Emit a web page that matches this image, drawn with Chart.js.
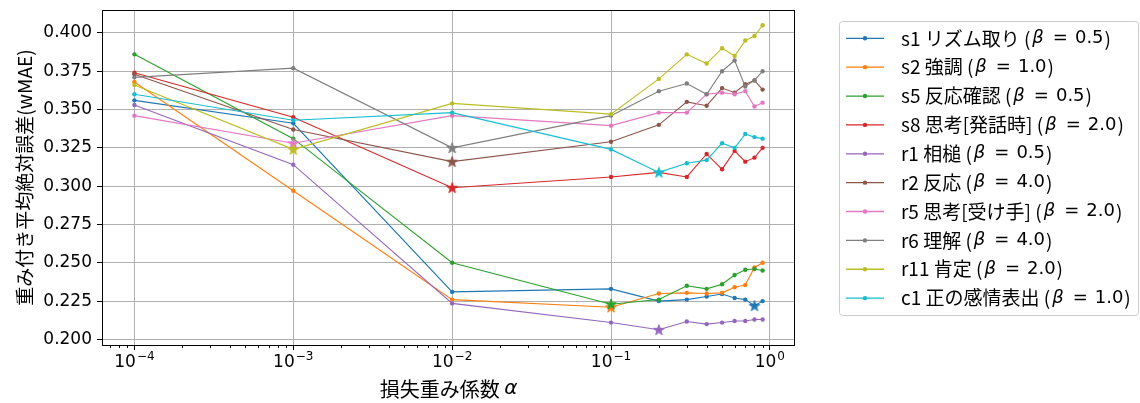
<!DOCTYPE html>
<html><head><meta charset="utf-8">
<script src="https://cdn.jsdelivr.net/npm/chart.js@4.4.1/dist/chart.umd.min.js"></script>
<style>html,body{margin:0;padding:0;background:#fff;}#wrap{width:1140px;height:403px;}</style>
</head><body><div id="wrap"><canvas id="c" width="1140" height="403"></canvas></div>
<script>
const alphas = [1e-4, 1e-3, 1e-2, 1e-1, 0.2, 0.3, 0.4, 0.5, 0.6, 0.7, 0.8, 0.9];
const names = ['s1 リズム取り', 's2 強調', 's5 反応確認', 's8 思考[発話時]', 'r1 相槌', 'r2 反応', 'r5 思考[受け手]', 'r6 理解', 'r11 肯定', 'c1 正の感情表出'];
const betas = ['0.5', '1.0', '0.5', '2.0', '0.5', '4.0', '2.0', '4.0', '2.0', '1.0'];
const colors = ['#1f77b4', '#ff7f0e', '#2ca02c', '#d62728', '#9467bd', '#8c564b', '#e377c2', '#7f7f7f', '#bcbd22', '#17becf'];
const s1  = [0.356, 0.341, 0.231, 0.233, 0.225, 0.226, 0.228, 0.2296, 0.227, 0.226, 0.222, 0.225];
const s2  = [0.368, 0.297, 0.226, 0.221, 0.230, 0.2304, 0.230, 0.2304, 0.234, 0.2355, 0.247, 0.250];
const s5  = [0.386, 0.331, 0.250, 0.223, 0.226, 0.235, 0.233, 0.236, 0.242, 0.2455, 0.246, 0.245];
const s8  = [0.374, 0.345, 0.299, 0.306, 0.309, 0.306, 0.321, 0.311, 0.323, 0.316, 0.3186, 0.325];
const r1  = [0.353, 0.314, 0.2235, 0.211, 0.2063, 0.2117, 0.210, 0.211, 0.212, 0.212, 0.213, 0.213];
const r2  = [0.373, 0.337, 0.316, 0.329, 0.340, 0.355, 0.3525, 0.364, 0.361, 0.3665, 0.369, 0.363];
const r5  = [0.346, 0.328, 0.346, 0.3395, 0.348, 0.348, 0.360, 0.361, 0.360, 0.362, 0.352, 0.3545];
const r6  = [0.371, 0.377, 0.325, 0.346, 0.362, 0.367, 0.360, 0.375, 0.382, 0.365, 0.369, 0.375];
const r11 = [0.366, 0.324, 0.354, 0.347, 0.370, 0.386, 0.380, 0.390, 0.385, 0.395, 0.398, 0.405];
const c1  = [0.360, 0.343, 0.348, 0.324, 0.309, 0.315, 0.317, 0.328, 0.325, 0.334, 0.332, 0.331];
const seriesValues = [s1, s2, s5, s8, r1, r2, r5, r6, r11, c1];
const yTicks = [0.200, 0.225, 0.250, 0.275, 0.300, 0.325, 0.350, 0.375, 0.400];
const xTicks = [1e-4, 1e-3, 1e-2, 1e-1, 1];
const xTickExp = ['−4', '−3', '−2', '−1', '0'];

function makeStar(color) {
  const c = document.createElement('canvas');
  c.width = 14; c.height = 14;
  const g = c.getContext('2d');
  g.fillStyle = color; g.strokeStyle = color; g.lineWidth = 1; g.lineJoin = 'miter';
  g.beginPath();
  for (let k = 0; k < 10; k++) {
    const r = (k % 2) ? 2.2 : 5.6;
    const a = -Math.PI / 2 + k * Math.PI / 5;
    const px = 7 + r * Math.cos(a), py = 7.4 + r * Math.sin(a);
    if (k) g.lineTo(px, py); else g.moveTo(px, py);
  }
  g.closePath(); g.fill(); g.stroke();
  return c;
}

const datasets = seriesValues.map((vals, i) => {
  let mi = 0;
  vals.forEach((v, j) => { if (v < vals[mi]) mi = j; });
  const star = makeStar(colors[i]);
  return {
    label: names[i],
    data: alphas.map((a, j) => ({x: a, y: vals[j]})),
    borderColor: colors[i],
    backgroundColor: colors[i],
    borderWidth: 1.1,
    pointRadius: 2.2,
    pointBorderWidth: 0,
    pointStyle: ctx => ctx.dataIndex === mi ? star : 'circle',
    tension: 0,
    order: seriesValues.length - 1 - i
  };
});

const TICKFONT = '17px "DejaVu Sans"';
const CJK = '"Noto Sans CJK JP"';

const decor = {
  id: 'decor',
  afterDraw(chart) {
    const ctx = chart.ctx, a = chart.chartArea;
    const xs = chart.scales.x;
    ctx.save();
    // frame
    ctx.strokeStyle = '#000'; ctx.lineWidth = 1;
    ctx.strokeRect(Math.round(a.left) - 0.5, Math.round(a.top) + 0.5, Math.round(a.right - a.left) + 1, Math.round(a.bottom - a.top));
    // minor x ticks
    ctx.beginPath();
    for (let d = -5; d <= 0; d++) {
      for (let m = 2; m <= 9; m++) {
        const v = m * Math.pow(10, d);
        if (v < xs.min || v > xs.max) continue;
        const px = Math.round(xs.getPixelForValue(v)) + 0.5;
        ctx.moveTo(px, a.bottom); ctx.lineTo(px, a.bottom + 3);
      }
    }
    ctx.stroke();
    // x tick labels with superscripts
    ctx.fillStyle = '#000'; ctx.textBaseline = 'alphabetic'; ctx.textAlign = 'left';
    xTicks.forEach((v, i) => {
      const px = xs.getPixelForValue(v);
      ctx.font = TICKFONT;
      const w1 = ctx.measureText('10').width;
      ctx.font = '12px "DejaVu Sans"';
      const w2 = ctx.measureText(xTickExp[i]).width;
      const x0 = px - (w1 + w2 + 1) / 2;
      ctx.font = TICKFONT;
      ctx.fillText('10', x0, 367);
      ctx.font = '12px "DejaVu Sans"';
      ctx.fillText(xTickExp[i], x0 + w1 + 1, 360);
    });
    // x title
    ctx.textBaseline = 'middle';
    ctx.font = '20px ' + CJK;
    const xt = '損失重み係数 ';
    const wx1 = ctx.measureText(xt).width;
    ctx.font = 'italic 20px "DejaVu Sans"';
    const wx2 = ctx.measureText('α').width;
    const cx = (a.left + a.right) / 2;
    ctx.font = '20px ' + CJK;
    ctx.fillText(xt, cx - (wx1 + wx2) / 2, 389);
    ctx.font = 'italic 20px "DejaVu Sans"';
    ctx.fillText('α', cx - (wx1 + wx2) / 2 + wx1, 389);
    // y title
    ctx.save();
    ctx.translate(25, (a.top + a.bottom) / 2);
    ctx.rotate(-Math.PI / 2);
    ctx.textAlign = 'center';
    ctx.font = '19px ' + CJK;
    ctx.fillText('重み付き平均絶対誤差(wMAE)', 0, 0);
    ctx.restore();
    // legend
    const L = 839.5, T = 21.5, R = 1138.5, B = 315.5;
    ctx.beginPath();
    ctx.roundRect(L, T, R - L, B - T, 3);
    ctx.fillStyle = 'rgba(255,255,255,0.85)'; ctx.fill();
    ctx.strokeStyle = '#cccccc'; ctx.lineWidth = 1; ctx.stroke();
    const step = 28.87;
    names.forEach((n, i) => {
      const y = 38.3 + i * step;
      ctx.strokeStyle = colors[i]; ctx.lineWidth = 1.3;
      ctx.beginPath(); ctx.moveTo(846, y); ctx.lineTo(884, y); ctx.stroke();
      ctx.fillStyle = colors[i];
      ctx.beginPath(); ctx.arc(865, y, 2.2, 0, Math.PI * 2); ctx.fill();
      ctx.fillStyle = '#000'; ctx.textAlign = 'left'; ctx.textBaseline = 'middle';
      let x = 901;
      ctx.font = '19px ' + CJK;
      const t1 = n + ' (';
      ctx.fillText(t1, x, y); x += ctx.measureText(t1).width + 2;
      ctx.font = 'italic 18px "DejaVu Sans"';
      ctx.fillText('β', x, y); x += ctx.measureText('β').width + 9;
      ctx.font = '18px "DejaVu Sans"';
      ctx.fillText('=', x, y); x += ctx.measureText('=').width + 7;
      const t3 = betas[i];
      ctx.fillText(t3, x, y); x += ctx.measureText(t3).width + 1;
      ctx.font = '19px ' + CJK;
      ctx.fillText(')', x, y);
    });
    ctx.restore();
  }
};

new Chart(document.getElementById('c'), {
  type: 'line',
  data: { datasets },
  options: {
    responsive: false,
    devicePixelRatio: 1,
    animation: false,
    parsing: true,
    layout: { padding: { left: 0, top: 10, right: 346, bottom: 0 } },
    plugins: { legend: { display: false }, tooltip: { enabled: false } },
    scales: {
      x: {
        type: 'logarithmic',
        min: Math.pow(10, -4.1977),
        max: Math.pow(10, 0.1519),
        afterBuildTicks: s => { s.ticks = xTicks.map(v => ({ value: v, major: true })); },
        afterFit: s => { s.height = 58; s.paddingLeft = 0; s.paddingRight = 0; s.paddingTop = 0; s.paddingBottom = 0; },
        ticks: { display: false },
        grid: { color: '#b0b0b0', lineWidth: 1, drawTicks: true, tickLength: 5, tickColor: '#000', tickWidth: 1 },
        border: { display: false }
      },
      y: {
        type: 'linear',
        min: 0.19637,
        max: 0.41494,
        afterBuildTicks: s => { s.ticks = yTicks.map(v => ({ value: v })); },
        afterFit: s => { s.width = 103; s.paddingTop = 0; s.paddingBottom = 0; s.paddingLeft = 0; s.paddingRight = 0; },
        ticks: { callback: v => Number(v).toFixed(3), font: { family: 'DejaVu Sans', size: 17 }, color: '#000', padding: 5 },
        grid: { color: '#b0b0b0', lineWidth: 1, drawTicks: true, tickLength: 6, tickColor: '#000', tickWidth: 1 },
        border: { display: false }
      }
    }
  },
  plugins: [decor]
});
</script>
</body></html>
